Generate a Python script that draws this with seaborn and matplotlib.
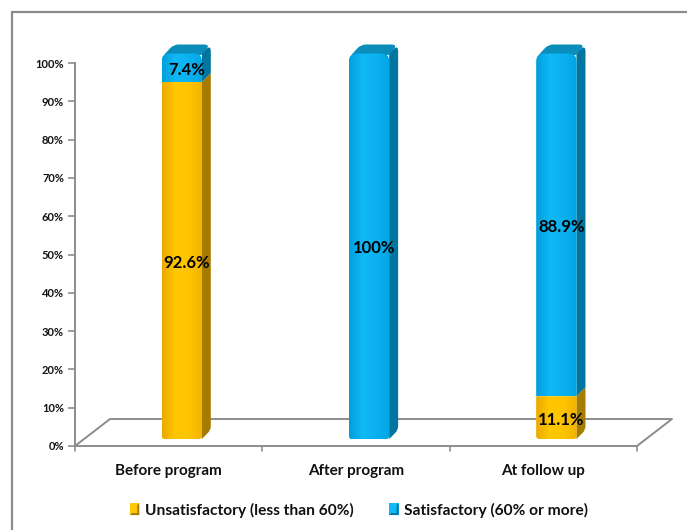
"""Stacked percentage bars with a drawn 3D look, before / after / follow up."""
import numpy as np
import pandas as pd
import matplotlib
matplotlib.use("Agg")
import matplotlib.pyplot as plt
import seaborn as sns
from matplotlib.colors import LinearSegmentedColormap
from matplotlib.patches import PathPatch, Patch, Polygon
from matplotlib.path import Path

W, H = 687, 530

periods = ["Before program", "After program", "At follow up"]
unsatisfactory = [92.6, 0, 11.1]
satisfactory = [7.4, 100, 88.9]
unsat_labels = ["92.6%", "", "11.1%"]
sat_labels = ["7.4%", "100%", "88.9%"]
unsat_name = "Unsatisfactory (less than 60%)"
sat_name = "Satisfactory (60% or more)"
y_ticks = list(range(0, 101, 10))

GOLD = ["#EBA900", "#FFC800", "#FFC400", "#F2B300"]
GOLD_SIDE = "#A67C00"
BLUE = ["#009FDC", "#10B8F5", "#0CB2F0", "#00A5E3"]
BLUE_SIDE = "#00759F"
BLUE_TOP = "#0A8DBB"
GREY = "#8C8C8C"
DEPTH = 9

sns.set_theme(style="white")
plt.rcParams["font.family"] = ["Lato", "DejaVu Sans"]


def px_axes(fig, left, top, right, bottom):
    return fig.add_axes([left / W, 1 - bottom / H, (right - left) / W, (bottom - top) / H])


def rounded(points, radius):
    """Closed path through points; radius[i] rounds corner i."""
    verts, codes = [], []
    n = len(points)
    for i in range(n):
        p = np.array(points[i], float)
        prev = np.array(points[i - 1], float)
        nxt = np.array(points[(i + 1) % n], float)
        r = radius[i]
        a = p + (prev - p) / np.linalg.norm(prev - p) * r
        b = p + (nxt - p) / np.linalg.norm(nxt - p) * r
        verts.append(a)
        codes.append(Path.MOVETO if i == 0 else Path.LINETO)
        if r > 0:
            verts += [p, b]
            codes += [Path.CURVE3, Path.CURVE3]
    verts.append(verts[0])
    codes.append(Path.CLOSEPOLY)
    return Path(verts, codes)


def draw_segment(ov, bar, bar_ax, colors, side, top_round, bottom_round):
    """Dress one seaborn bar with a gradient front and a shaded side."""
    to_px = bar_ax.transData + ov.transData.inverted()
    (x0, y1), (x1, y0) = to_px.transform(bar.get_bbox().get_points())
    r_t = 8 if top_round else 0
    r_b = 3 if bottom_round else 0
    side_pts = [(x1, y0), (x1 + DEPTH, y0 - DEPTH), (x1 + DEPTH, y1 - DEPTH), (x1, y1)]
    side_radius = [0, 7 if top_round else 0, 4 if bottom_round else 0, 0]
    ov.add_patch(PathPatch(rounded(side_pts, side_radius), fc=side, ec="none", zorder=3))

    face = PathPatch(
        rounded([(x0, y0), (x1, y0), (x1, y1), (x0, y1)], [r_t, r_t, r_b, r_b]),
        fc="none", ec="none", zorder=4,
    )
    ov.add_patch(face)
    cmap = LinearSegmentedColormap.from_list("face", colors)
    im = ov.imshow(
        np.linspace(0, 1, 64).reshape(1, -1), cmap=cmap, aspect="auto",
        extent=(x0, x1, y1, y0), zorder=4, interpolation="bilinear",
    )
    im.set_clip_path(face)
    bar.set_clip_path(face)
    return x0, x1, y0


fig = plt.figure(figsize=(W / 100, H / 100), dpi=100, facecolor="white")

# axis frame, 0% at y=446 and 100% at y=63
ax = px_axes(fig, 75, 63, 637, 446)
ax.set_xlim(0, 3)
ax.set_ylim(0, 100)
ax.set_xticks([0.5, 1.5, 2.5], periods, fontsize=11, fontweight="bold", color="#111111")
ax.set_yticks(y_ticks, [f"{v}%" for v in y_ticks], fontsize=8, fontweight="bold", color="#111111")
ax.tick_params(axis="x", length=0, pad=13)
ax.tick_params(axis="y", length=5, width=1.2, color=GREY, left=True, pad=3)
for x in [0, 1, 2, 3]:
    ax.plot([x, x], [0, -1.4], color=GREY, lw=1.2, clip_on=False)
sns.despine(ax=ax)
for side_name in ["left", "bottom"]:
    ax.spines[side_name].set_color(GREY)
    ax.spines[side_name].set_linewidth(1.4)

# pixel overlay for the frame and floor, under the bars
ov = fig.add_axes([0, 0, 1, 1], zorder=2)
ov.set_xlim(0, W)
ov.set_ylim(H, 0)
ov.axis("off")
ov.plot([12, 12, W], [H, 11.5, 11.5], color=GREY, lw=1.6, solid_joinstyle="miter")
ov.plot([75, 110, 672, 637], [446, 419, 419, 446], color=GREY, lw=1.4)

# bars sit mid-depth on the floor, so they are shifted up and to the right
bar_ax = px_axes(fig, 88, 53.5, 650, 439)
df = pd.DataFrame({"period": periods, "unsat": unsatisfactory, "sat": satisfactory})
sns.barplot(data=df, x="period", y="unsat", color=GOLD[1], width=0.215, saturation=1, ax=bar_ax)
n_first = len(bar_ax.patches)
sns.barplot(data=df, x="period", y="sat", bottom=df["unsat"], color=BLUE[1], width=0.215, saturation=1, ax=bar_ax)
bar_ax.set_xlim(-0.5, 2.5)
bar_ax.set_ylim(0, 100)
bar_ax.axis("off")
bar_ax.set_zorder(3)

# second overlay above the bars: shading, labels
front = fig.add_axes([0, 0, 1, 1], zorder=4)
front.axis("off")
front.set_xlim(0, W)
front.set_ylim(H, 0)

gold_bars = bar_ax.patches[:n_first]
blue_bars = bar_ax.patches[n_first:]
for i in range(len(periods)):
    if unsatisfactory[i] > 0:
        draw_segment(front, gold_bars[i], bar_ax, GOLD, GOLD_SIDE, False, True)
    x0, x1, top = draw_segment(front, blue_bars[i], bar_ax, BLUE, BLUE_SIDE, True, unsatisfactory[i] == 0)
    front.add_patch(PathPatch(
        rounded([(x0 + 2, top + 2), (x0 + DEPTH + 3, top - DEPTH), (x1 + DEPTH, top - DEPTH), (x1 - 1, top + 2)],
                [2, 5, 7, 2]),
        fc=BLUE_TOP, ec="none", zorder=3.5,
    ))
front.set_xlim(0, W)
front.set_ylim(H, 0)

# value labels, centred on each segment
for i in range(len(periods)):
    for bar, text in ((gold_bars[i], unsat_labels[i]), (blue_bars[i], sat_labels[i])):
        if text:
            front.annotate(
                text, (bar.get_x() + bar.get_width() / 2, bar.get_y() + bar.get_height() / 2),
                xycoords=bar_ax.transData, xytext=(3.5, -1.5), textcoords="offset points",
                ha="center", va="center", fontsize=12, fontweight="bold", color="black",
                annotation_clip=False, zorder=10,
            )

# legend, swatches get a dark corner like the bars' side
handles = [Patch(fc=GOLD[1], ec="none", label=unsat_name), Patch(fc=BLUE[1], ec="none", label=sat_name)]
legend = fig.legend(
    handles=handles, loc="center", bbox_to_anchor=(359 / W, 1 - 510 / H), ncol=2, frameon=False,
    handlelength=0.6, handleheight=0.8, handletextpad=0.35, columnspacing=2.3,
    prop={"size": 11.2, "weight": "bold"}, labelcolor="#111111",
)
legend.set_zorder(3)
fig.canvas.draw()
for handle, dark in zip(legend.legend_handles, [GOLD_SIDE, BLUE_SIDE]):
    (sx0, sy1), (sx1, sy0) = front.transData.inverted().transform(handle.get_window_extent().get_points())
    front.add_patch(Polygon([(sx1, sy0), (sx1, sy1), (sx0, sy1), (sx0 + 2, sy1 - 2), (sx1 - 2, sy1 - 2), (sx1 - 2, sy0 + 2)],
                            fc=dark, ec="none", zorder=6))

fig.savefig("out.png", dpi=100)
plt.close(fig)
